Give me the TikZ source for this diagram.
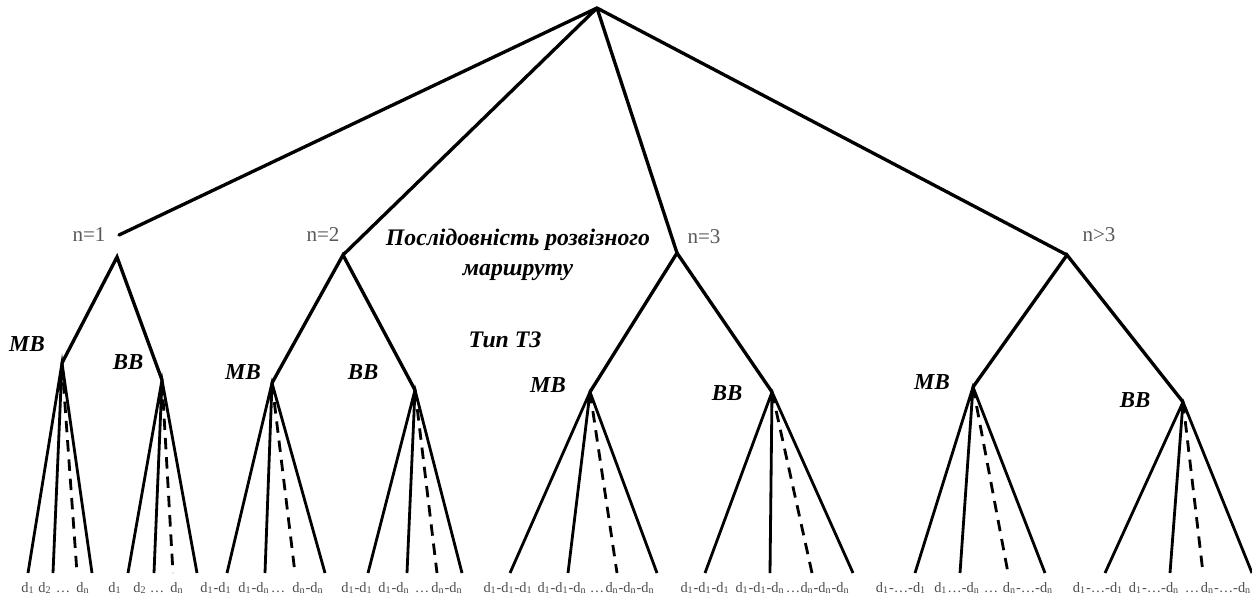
\documentclass[tikz,border=0pt]{standalone}
\usepackage{fontspec}
\setmainfont{Liberation Serif}
\usepackage{xcolor}
\usepackage{tikz}
\usetikzlibrary{positioning, calc}
\newcommand{\dsub}[1]{d\textsubscript{#1}}

\begin{document}
\begin{tikzpicture}[
    branch/.style  = {line width=1.9pt, line cap=round},
    fan/.style     = {line width=1.6pt},
    fandash/.style = {line width=1.6pt, dash pattern=on 6.5pt off 4.5pt},
    kind/.style    = {font=\fontsize{13}{15}\selectfont\bfseries\itshape,
                      fill=white, inner sep=2pt},
    nlab/.style    = {font=\fontsize{12}{14}\selectfont, text=black!65},
    leaf/.style    = {font=\fontsize{8.2}{10}\selectfont, text=black!70,
                      inner sep=0.5pt, anchor=base},
    caption/.style = {font=\fontsize{13.5}{17}\selectfont\bfseries\itshape,
                      align=center, inner sep=1pt}
  ]
  \useasboundingbox (0,0) rectangle (25.04,-11.94);

  % ── Top level: root and the four n-branches ─────────────────
  \coordinate (root) at (11.94,-0.16);
  \coordinate (n1end) at (2.38,-4.70);
  \coordinate (n1) at (2.34,-5.14);
  \coordinate (n2) at (6.86,-5.10);
  \coordinate (n3) at (13.54,-5.06);
  \coordinate (n4) at (21.34,-5.10);

  \draw[branch] (root) -- (n1end);
  \draw[branch] (root) -- (n2);
  \draw[branch] (root) -- (n3);
  \draw[branch] (root) -- (n4);

  \node[nlab] (l1) at (1.78,-4.70)  {n=1};
  \node[nlab] (l2) at (6.46,-4.70)  {n=2};
  \node[nlab] (l3) at (14.08,-4.74) {n=3};
  \node[nlab] (l4) at (21.98,-4.70) {n>3};

  % ── Second level: vehicle type per branch ──────────────────
  \coordinate (m1) at (1.24,-7.26);   \coordinate (b1) at (3.24,-7.60);
  \coordinate (m2) at (5.44,-7.66);   \coordinate (b2) at (8.30,-7.80);
  \coordinate (m3) at (11.80,-7.84);  \coordinate (b3) at (15.44,-7.84);
  \coordinate (m4) at (19.46,-7.74);  \coordinate (b4) at (23.66,-8.04);

  \draw[branch] (m1) -- (n1) -- (b1);
  \draw[branch] (m2) -- (n2) -- (b2);
  \draw[branch] (m3) -- (n3) -- (b3);
  \draw[branch] (m4) -- (n4) -- (b4);

  % ── Leaf fans (end points at the bottom) ───────────────────
  \coordinate (m1a) at (0.56,-11.46);  \coordinate (m1b) at (1.06,-11.46);
  \coordinate (m1c) at (1.54,-11.46);  \coordinate (m1d) at (1.84,-11.46);
  \coordinate (b1a) at (2.56,-11.46);  \coordinate (b1b) at (3.08,-11.46);
  \coordinate (b1c) at (3.46,-11.46);  \coordinate (b1d) at (3.94,-11.46);
  \coordinate (m2a) at (4.54,-11.46);  \coordinate (m2b) at (5.30,-11.46);
  \coordinate (m2c) at (5.90,-11.46);  \coordinate (m2d) at (6.50,-11.46);
  \coordinate (b2a) at (7.36,-11.46);  \coordinate (b2b) at (8.14,-11.46);
  \coordinate (b2c) at (8.74,-11.46);  \coordinate (b2d) at (9.24,-11.46);
  \coordinate (m3a) at (10.20,-11.46); \coordinate (m3b) at (11.36,-11.46);
  \coordinate (m3c) at (12.34,-11.46); \coordinate (m3d) at (13.14,-11.46);
  \coordinate (b3a) at (14.10,-11.46); \coordinate (b3b) at (15.40,-11.46);
  \coordinate (b3c) at (16.24,-11.46); \coordinate (b3d) at (17.06,-11.46);
  \coordinate (m4a) at (18.30,-11.46); \coordinate (m4b) at (19.20,-11.46);
  \coordinate (m4c) at (20.16,-11.46); \coordinate (m4d) at (20.90,-11.46);
  \coordinate (b4a) at (22.10,-11.46); \coordinate (b4b) at (23.40,-11.46);
  \coordinate (b4c) at (24.06,-11.46); \coordinate (b4d) at (25.04,-11.46);

  \draw[fan] (m1a) -- (m1) -- (m1d)  (m1) -- (m1b);
  \draw[fandash] (m1) -- (m1c);
  \draw[fan] (b1a) -- (b1) -- (b1d)  (b1) -- (b1b);
  \draw[fandash] (b1) -- (b1c);
  \draw[fan] (m2a) -- (m2) -- (m2d)  (m2) -- (m2b);
  \draw[fandash] (m2) -- (m2c);
  \draw[fan] (b2a) -- (b2) -- (b2d)  (b2) -- (b2b);
  \draw[fandash] (b2) -- (b2c);
  \draw[fan] (m3a) -- (m3) -- (m3d)  (m3) -- (m3b);
  \draw[fandash] (m3) -- (m3c);
  \draw[fan] (b3a) -- (b3) -- (b3d)  (b3) -- (b3b);
  \draw[fandash] (b3) -- (b3c);
  \draw[fan] (m4a) -- (m4) -- (m4d)  (m4) -- (m4b);
  \draw[fandash] (m4) -- (m4c);
  \draw[fan] (b4a) -- (b4) -- (b4d)  (b4) -- (b4b);
  \draw[fandash] (b4) -- (b4c);

  % ── Vehicle type labels ─────────────────────────────────────
  \node[kind] (t1m) at (0.54,-6.88)  {МВ};
  \node[kind] (t1b) at (2.56,-7.24)  {ВВ};
  \node[kind] (t2m) at (4.86,-7.44)  {МВ};
  \node[kind] (t2b) at (7.26,-7.44)  {ВВ};
  \node[kind] (t3m) at (10.96,-7.70) {МВ};
  \node[kind] (t3b) at (14.54,-7.86) {ВВ};
  \node[kind] (t4m) at (18.64,-7.64) {МВ};
  \node[kind] (t4b) at (22.70,-8.00) {ВВ};

  % ── Level captions ──────────────────────────────────────────
  \node[caption] (seq)  at (10.36,-5.10) {Послідовність розвізного\\маршруту};
  \node[caption] (type) at (10.10,-6.80) {Тип ТЗ};

  % ── Leaf labels (placed on a common baseline) ──────────────
  % n=1
  \node[leaf] (x1a) at (0.56,-11.84) {\dsub{1}};
  \node[leaf] (x1b) at (0.90,-11.84) {\dsub{2}};
  \node[leaf] (x1c) at (1.26,-11.84) {\ldots};
  \node[leaf] (x1d) at (1.66,-11.84) {\dsub{n}};
  \node[leaf] (y1a) at (2.30,-11.84) {\dsub{1}};
  \node[leaf] (y1b) at (2.80,-11.84) {\dsub{2}};
  \node[leaf] (y1c) at (3.14,-11.84) {\ldots};
  \node[leaf] (y1d) at (3.54,-11.84) {\dsub{n}};
  % n=2
  \node[leaf] (x2a) at (4.32,-11.84) {\dsub{1}-\dsub{1}};
  \node[leaf] (x2b) at (5.08,-11.84) {\dsub{1}-\dsub{n}};
  \node[leaf] (x2c) at (5.56,-11.84) {\ldots};
  \node[leaf] (x2d) at (6.16,-11.84) {\dsub{n}-\dsub{n}};
  \node[leaf] (y2a) at (7.14,-11.84) {\dsub{1}-\dsub{1}};
  \node[leaf] (y2b) at (7.88,-11.84) {\dsub{1}-\dsub{n}};
  \node[leaf] (y2c) at (8.44,-11.84) {\ldots};
  \node[leaf] (y2d) at (8.94,-11.84) {\dsub{n}-\dsub{n}};
  % n=3
  \node[leaf] (x3a) at (10.16,-11.84) {\dsub{1}-\dsub{1}-\dsub{1}};
  \node[leaf] (x3b) at (11.24,-11.84) {\dsub{1}-\dsub{1}-\dsub{n}};
  \node[leaf] (x3c) at (11.94,-11.84) {\ldots};
  \node[leaf] (x3d) at (12.60,-11.84) {\dsub{n}-\dsub{n}-\dsub{n}};
  \node[leaf] (y3a) at (14.10,-11.84) {\dsub{1}-\dsub{1}-\dsub{1}};
  \node[leaf] (y3b) at (15.20,-11.84) {\dsub{1}-\dsub{1}-\dsub{n}};
  \node[leaf] (y3c) at (15.86,-11.84) {\ldots};
  \node[leaf] (y3d) at (16.50,-11.84) {\dsub{n}-\dsub{n}-\dsub{n}};
  % n>3
  \node[leaf] (x4a) at (18.02,-11.84) {\dsub{1}-\ldots-\dsub{1}};
  \node[leaf] (x4b) at (19.14,-11.84) {\dsub{1}\ldots-\dsub{n}};
  \node[leaf] (x4c) at (19.82,-11.84) {\ldots};
  \node[leaf] (x4d) at (20.56,-11.84) {\dsub{n}-\ldots-\dsub{n}};
  \node[leaf] (y4a) at (21.96,-11.84) {\dsub{1}-\ldots-\dsub{1}};
  \node[leaf] (y4b) at (23.08,-11.84) {\dsub{1}-\ldots-\dsub{n}};
  \node[leaf] (y4c) at (23.84,-11.84) {\ldots};
  \node[leaf] (y4d) at (24.52,-11.84) {\dsub{n}-\ldots-\dsub{n}};

\end{tikzpicture}
\end{document}
